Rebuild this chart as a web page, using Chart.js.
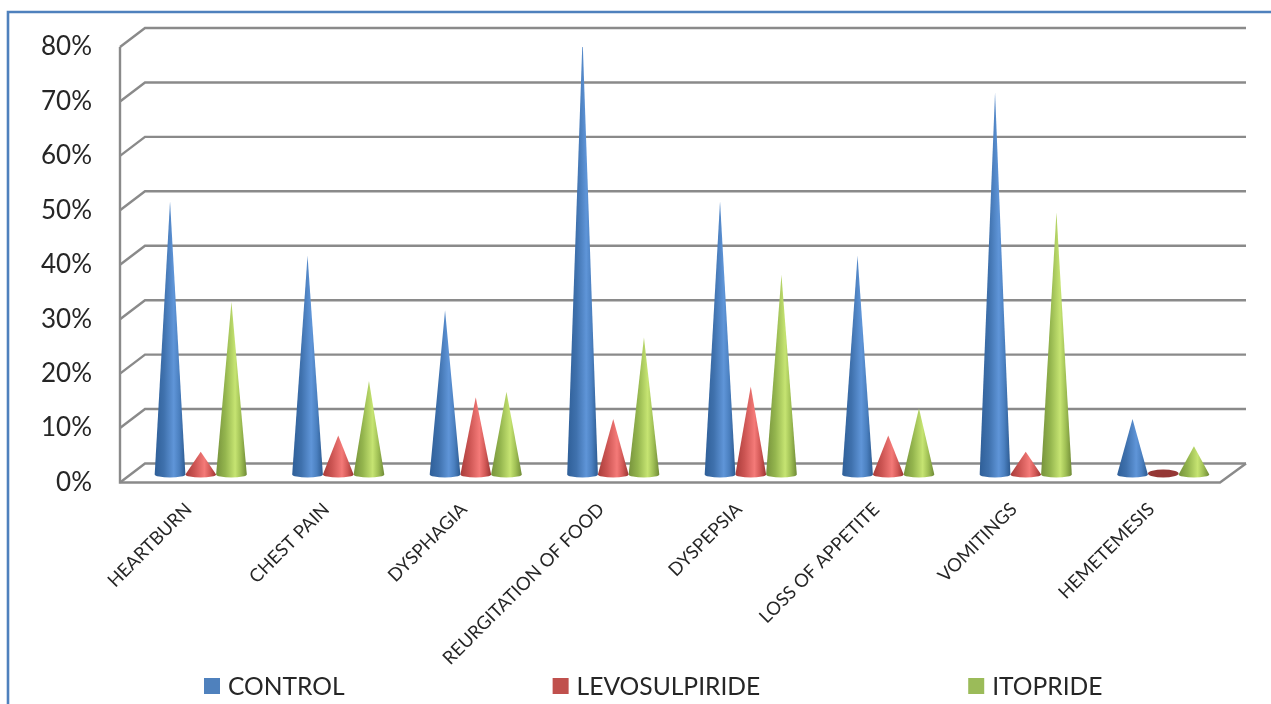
<!DOCTYPE html>
<html>
<head>
<meta charset="utf-8">
<style>html,body{margin:0;padding:0;background:#fff;overflow:hidden}canvas{display:block;filter:blur(0.4px)}</style>
<script src="https://cdn.jsdelivr.net/npm/chart.js@4/dist/chart.umd.min.js"></script>
</head>
<body>
<canvas id="c" width="1271" height="704"></canvas>
<script>
const categories = ["HEARTBURN","CHEST PAIN","DYSPHAGIA","REURGITATION OF FOOD","DYSPEPSIA","LOSS OF APPETITE","VOMITINGS","HEMETEMESIS"];
const controlValues = [50,40,30,80,50,40,70,10];
const levosulpirideValues = [4,7,14,10,16,7,4,0];
const itoprideValues = [31.5,17,15,25,36.5,12,48,5];
const seriesColors = ["#4f81bd","#c0504d","#9bbb59"];
const coneShades = {
  "#4f81bd":["#2f5f98","#3f71ad","#5f95d8","#4b80c0","#2c5a90"],
  "#c0504d":["#a83c3a","#cc5553","#f47a78","#d45a58","#9a3432"],
  "#9bbb59":["#76923c","#94b54e","#c6e472","#a0c055","#6f8a36"]
};
const zeroColor = "#953735";

const wall = {dx:25, dy:19};
const coneOffset = {dx:12, dy:8};
const baseRy = 3;
const legendBox = {x:204, y:686, size:16, textGap:8, gap:208};

Chart.BarElement.prototype.draw = function(ctx){
  const p = this.getProps(['x','y','base','width'], true);
  const color = this.options.backgroundColor;
  const cx = p.x + coneOffset.dx;
  const by = p.base - coneOffset.dy;
  const tip = p.y - coneOffset.dy - 1;
  const r = p.width / 2;
  const s = coneShades[color];
  ctx.save();
  if (p.base - p.y < 1) {
    ctx.fillStyle = zeroColor;
    ctx.beginPath();
    ctx.ellipse(cx, by - 1, r, baseRy + 1, 0, 0, Math.PI*2);
    ctx.fill();
    ctx.restore();
    return;
  }
  const g = ctx.createLinearGradient(cx - r, 0, cx + r, 0);
  [0,0.3,0.62,0.8,1].forEach((t,i)=>g.addColorStop(t,s[i]));
  ctx.fillStyle = g;
  ctx.beginPath();
  ctx.moveTo(cx, tip);
  ctx.lineTo(cx + r, by);
  ctx.ellipse(cx, by, r, baseRy, 0, 0, Math.PI);
  ctx.closePath();
  ctx.fill();
  ctx.restore();
};

const wallPlugin = {
  id:'wall',
  beforeDraw(chart){
    const {ctx} = chart;
    ctx.save();
    ctx.fillStyle = '#fff';
    ctx.fillRect(0,0,chart.width,chart.height);
    ctx.strokeStyle = '#4f81bd';
    ctx.lineWidth = 2.6;
    ctx.beginPath();
    ctx.moveTo(8,704); ctx.lineTo(8,12); ctx.lineTo(1271,12);
    ctx.stroke();
    ctx.restore();
  },
  beforeDatasetsDraw(chart){
    const {ctx, chartArea:a, scales:{y}} = chart;
    ctx.save();
    ctx.strokeStyle = '#8a8a8a';
    ctx.lineWidth = 2.4;
    y.ticks.forEach(t=>{
      const py = y.getPixelForValue(t.value);
      ctx.beginPath();
      ctx.moveTo(a.left, py);
      ctx.lineTo(a.left + wall.dx, py - wall.dy);
      ctx.lineTo(a.right + wall.dx + 1, py - wall.dy);
      ctx.stroke();
    });
    ctx.beginPath();
    ctx.moveTo(a.left, a.top);
    ctx.lineTo(a.left, a.bottom);
    ctx.lineTo(a.right, a.bottom);
    ctx.lineTo(a.right + wall.dx + 1, a.bottom - wall.dy);
    ctx.stroke();
    ctx.restore();
  },
  afterDraw(chart){
    const {ctx} = chart;
    ctx.save();
    ctx.font = '24.6px Lato';
    ctx.textBaseline = 'middle';
    let x = legendBox.x;
    chart.data.datasets.forEach(d=>{
      ctx.fillStyle = d.backgroundColor;
      ctx.fillRect(x, legendBox.y - legendBox.size/2, legendBox.size, legendBox.size);
      x += legendBox.size + legendBox.textGap;
      ctx.fillStyle = '#262626';
      ctx.fillText(d.label, x, legendBox.y + 1);
      x += ctx.measureText(d.label).width + legendBox.gap;
    });
    ctx.restore();
  }
};

new Chart(document.getElementById('c'),{
  type:'bar',
  data:{
    labels:categories,
    datasets:[
      {label:"CONTROL",data:controlValues,backgroundColor:seriesColors[0]},
      {label:"LEVOSULPIRIDE",data:levosulpirideValues,backgroundColor:seriesColors[1]},
      {label:"ITOPRIDE",data:itoprideValues,backgroundColor:seriesColors[2]}
    ]
  },
  options:{
    responsive:false,
    animation:false,
    layout:{padding:{top:47,right:51,left:0,bottom:0}},
    datasets:{bar:{categoryPercentage:0.67,barPercentage:1}},
    plugins:{
      tooltip:{enabled:false},
      title:{display:false},
      legend:{display:false}
    },
    scales:{
      x:{
        grid:{display:false},
        border:{display:false},
        afterFit(s){s.height=221.5;},
        ticks:{
          maxRotation:45,minRotation:45,autoSkip:false,padding:8,
          color:'#262626',font:{family:'Lato',size:18.4}
        }
      },
      y:{
        min:0,max:80,
        grid:{display:false},
        border:{display:false},
        afterFit(s){s.width=120;},
        ticks:{
          stepSize:10,padding:20,color:'#262626',
          font:{family:'Lato',size:26},
          callback:v=>v+'%'
        }
      }
    }
  },
  plugins:[wallPlugin]
});
</script>
</body>
</html>
